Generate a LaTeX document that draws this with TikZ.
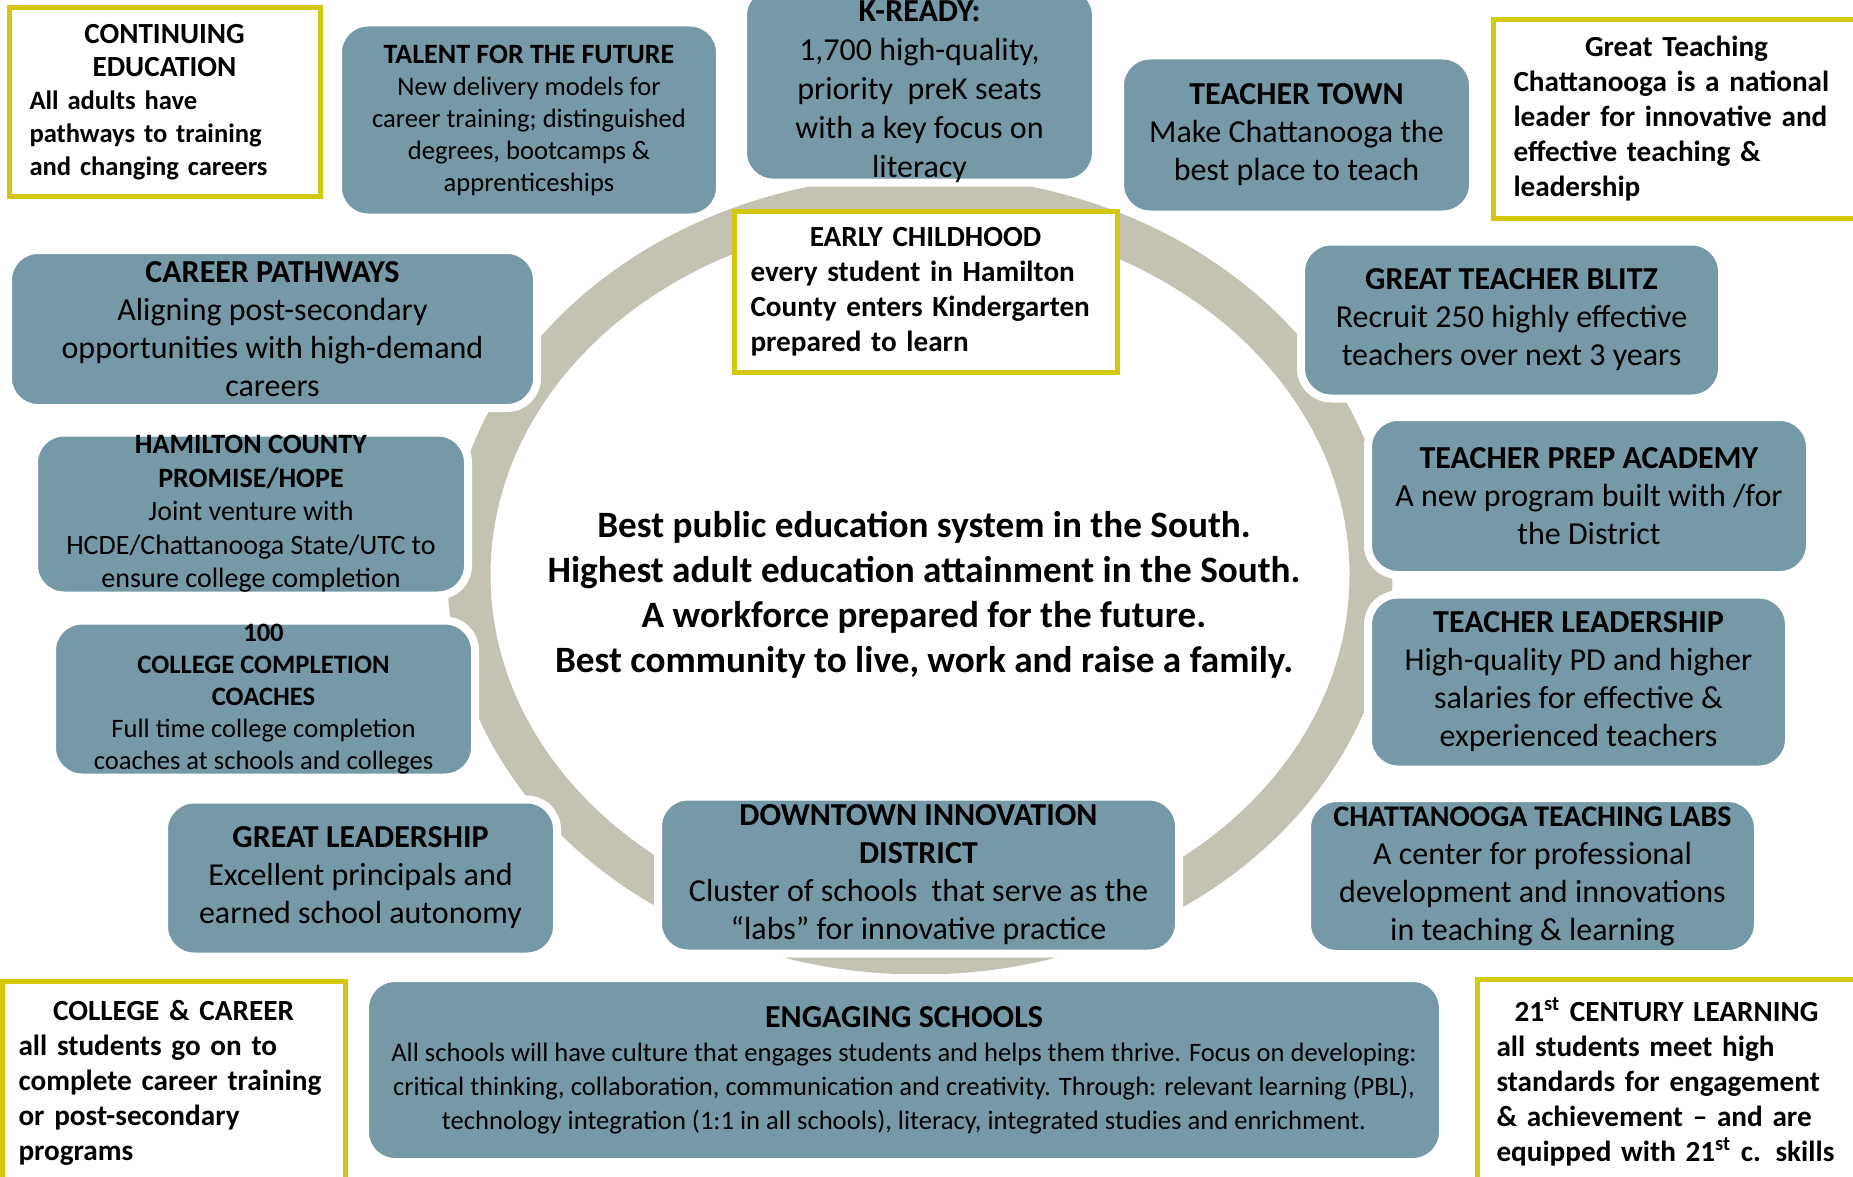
\documentclass[tikz,border=0pt]{standalone}
\usepackage{fontspec}
\setmainfont{Carlito}
\definecolor{slate}{HTML}{7599A6}
\definecolor{ringgray}{HTML}{C3C2B3}
\definecolor{mustard}{HTML}{D4C80F}
\newcommand{\boxhead}[1]{\makebox[\linewidth]{#1}\\}
\tikzset{
  goal/.style={draw=white, line width=4pt, fill=slate, rounded corners=15pt, align=center, inner sep=0pt},
  aim/.style={draw=mustard, line width=2.5pt, fill=white, inner ysep=0pt, align=left, font=\bfseries\fontsize{14.6}{17.5}\selectfont},
  bigtext/.style={font=\fontsize{16}{19}\selectfont},
  smalltext/.style={font=\fontsize{13.3}{16}\selectfont},
}
\begin{document}
\begin{tikzpicture}[x=0.5pt,y=-0.5pt]
\useasboundingbox (0,0) rectangle (1853,1177);
\clip (0,0) rectangle (1853,1177);
\draw[ringgray, line width=21.5pt] (920,575) ellipse [x radius=451, y radius=378];
\node[font=\bfseries\fontsize{18.6}{22.5}\selectfont, align=center] (vision) at (924,595) {Best public education system in the South.\\Highest adult education attainment in the South.\\A workforce prepared for the future.\\Best community to live, work and raise a family.};
% top row
\node[aim, text width=135pt, inner xsep=10.25pt, minimum height=94pt, font=\bfseries\fontsize{13.3}{16.5}\selectfont] (cont) at (164.5,102) {\boxhead{\fontsize{14.6}{17}\selectfont CONTINUING}\boxhead{\fontsize{14.6}{17}\selectfont EDUCATION}All adults have\\pathways to training\\and changing careers};
\node[goal, smalltext, minimum width=191pt, minimum height=97.5pt] (talent) at (529,120) {{\fontsize{14}{16}\selectfont\textbf{TALENT FOR THE FUTURE}}\\New delivery models for\\career training; distinguished\\degrees, bootcamps \&\\apprenticeships};
\node[goal, font=\fontsize{16}{19.5}\selectfont, minimum width=176.5pt, minimum height=97pt] (kready) at (919.5,84) {\rule{0pt}{18pt}\textbf{K-READY:}\\1,700 high-quality,\\priority\ \ preK seats\\with a key focus on\\literacy};
\node[goal, bigtext, minimum width=176.5pt, minimum height=79.5pt] (town) at (1296.5,135) {\textbf{TEACHER TOWN}\\Make Chattanooga the\\best place to teach};
\node[aim, text width=163pt, inner xsep=10.25pt, minimum height=99pt] (greatteach) at (1676.5,119) {\boxhead{Great Teaching}Chattanooga is a national\\leader for innovative and\\effective teaching \&\\leadership};
% middle
\node[goal, bigtext, minimum width=264.5pt, minimum height=79pt] (career) at (272.5,329) {\textbf{CAREER PATHWAYS}\\Aligning post-secondary\\opportunities with high-demand\\careers};
\node[aim, text width=175pt, inner xsep=8.25pt, minimum height=80.5pt] (early) at (925.5,291.5) {\boxhead{EARLY CHILDHOOD}every student in Hamilton\\County enters Kindergarten\\prepared to learn};
\node[goal, bigtext, minimum width=210.5pt, minimum height=78.5pt] (blitz) at (1511.5,320) {\textbf{GREAT TEACHER BLITZ}\\Recruit 250 highly effective\\teachers over next 3 years};
\node[goal, font=\fontsize{14}{16.75}\selectfont, minimum width=217pt, minimum height=81.5pt] (promise) at (251,514) {\textbf{HAMILTON COUNTY}\\\textbf{PROMISE/HOPE}\\Joint venture with\\HCDE/Chattanooga State/UTC to\\ensure college completion};
\node[goal, bigtext, minimum width=221pt, minimum height=79pt] (prep) at (1589,496) {\textbf{TEACHER PREP ACADEMY}\\A new program built with /for\\the District};
\node[goal, smalltext, minimum width=211.5pt, minimum height=78.5pt] (coaches) at (263.5,699) {\textbf{100}\\\textbf{COLLEGE COMPLETION}\\\textbf{COACHES}\\Full time college completion\\coaches at schools and colleges};
\node[goal, bigtext, minimum width=210.5pt, minimum height=87.5pt] (tlead) at (1578.5,682) {\textbf{TEACHER LEADERSHIP}\\High-quality PD and higher\\salaries for effective \&\\experienced teachers};
% lower row
\node[goal, bigtext, minimum width=196.5pt, minimum height=78.5pt] (gleader) at (360.5,878) {\textbf{GREAT LEADERSHIP}\\Excellent principals and\\earned school autonomy};
\node[goal, bigtext, minimum width=260.5pt, minimum height=78.5pt] (downtown) at (918.5,875) {\textbf{DOWNTOWN INNOVATION}\\\textbf{DISTRICT}\\Cluster of schools\ \ that serve as the\\“labs” for innovative practice};
\node[goal, bigtext, minimum width=225.5pt, minimum height=78pt] (labs) at (1532.5,876) {{\fontsize{15}{19}\selectfont\textbf{CHATTANOOGA TEACHING LABS}}\\A center for professional\\development and innovations\\in teaching \& learning};
% bottom row
\node[aim, text width=155pt, inner xsep=8.25pt, minimum height=102pt] (college) at (173.5,1083) {\boxhead{COLLEGE \& CAREER}all students go on to\\complete career training\\or post-secondary\\programs};
\node[goal, font=\fontsize{13.3}{17}\selectfont, minimum width=539pt, minimum height=92pt] (engaging) at (904,1070) {{\fontsize{16}{19}\selectfont\textbf{ENGAGING SCHOOLS}}\\All schools will have culture that engages students and helps them thrive. Focus on developing:\\critical thinking, collaboration, communication and creativity. Through: relevant learning (PBL),\\technology integration (1:1 in all schools), literacy, integrated studies and enrichment.};
\node[aim, text width=170pt, inner xsep=9.75pt, minimum height=103pt] (century) at (1666.5,1082) {\boxhead{21\textsuperscript{st} CENTURY LEARNING}all students meet high\\standards for engagement\\\& achievement – and are\\equipped with 21\textsuperscript{st} c. skills};
\end{tikzpicture}
\end{document}
